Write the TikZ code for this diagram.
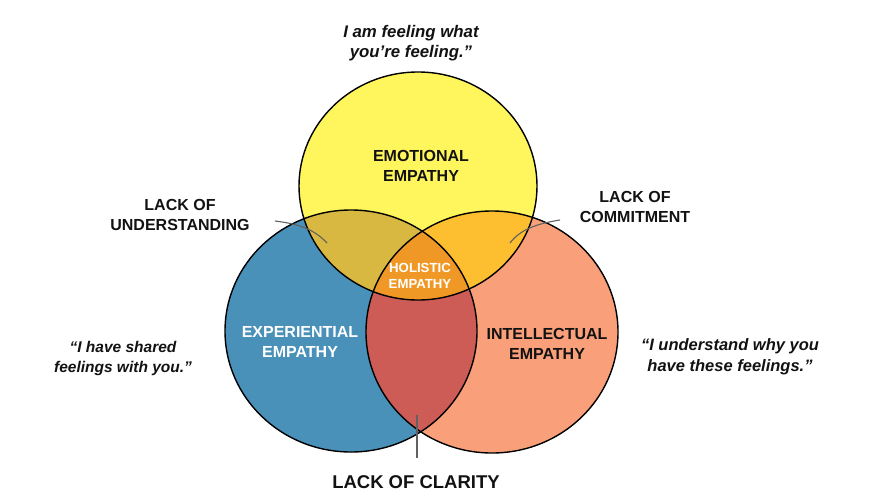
\documentclass[tikz,border=0pt]{standalone}
\usepackage{fontspec}
\setmainfont{Liberation Sans}
\begin{document}
\begin{tikzpicture}[x=1pt,y=-1pt,
  lbl/.style={font=\bfseries\fontsize{16}{20.5}\selectfont, align=center, text=black!93, inner sep=0pt},
  quotetext/.style={font=\bfseries\itshape\fontsize{16}{20}\selectfont, align=center, text=black!93, inner sep=0pt},
  holtext/.style={font=\bfseries\fontsize{13.2}{16}\selectfont, align=center, text=white, inner sep=0pt},
  leader/.style={draw=black!62, line width=1.1pt},
  outline/.style={draw=black, line width=1.4pt}]
\definecolor{cyel}{RGB}{255,245,92}
\definecolor{cblue}{RGB}{74,145,185}
\definecolor{csal}{RGB}{249,160,122}
\definecolor{cyb}{RGB}{217,184,65}
\definecolor{cys}{RGB}{253,190,48}
\definecolor{cbs}{RGB}{205,91,86}
\definecolor{cmid}{RGB}{240,152,37}
\useasboundingbox (0,0) rectangle (874,496);
\fill[white] (0,0) rectangle (874,496);
% base fills
\fill[cblue] (351,331) ellipse [x radius=126, y radius=121];
\fill[csal] (492,332) ellipse [x radius=126, y radius=121];
\fill[cyel] (418,186) ellipse [x radius=119, y radius=114];
% pairwise overlaps
\begin{scope}
  \clip (351,331) ellipse [x radius=126, y radius=121];
  \fill[cyb] (418,186) ellipse [x radius=119, y radius=114];
  \fill[cbs] (492,332) ellipse [x radius=126, y radius=121];
\end{scope}
\begin{scope}
  \clip (492,332) ellipse [x radius=126, y radius=121];
  \fill[cys] (418,186) ellipse [x radius=119, y radius=114];
\end{scope}
\begin{scope}
  \clip (351,331) ellipse [x radius=126, y radius=121];
  \clip (492,332) ellipse [x radius=126, y radius=121];
  \fill[cmid] (418,186) ellipse [x radius=119, y radius=114];
\end{scope}
% outlines
\draw[outline] (351,331) ellipse [x radius=126, y radius=121];
\draw[outline] (492,332) ellipse [x radius=126, y radius=121];
\draw[outline] (418,186) ellipse [x radius=119, y radius=114];
% circle labels
\node[lbl] (emo) at (421,166) {EMOTIONAL\\EMPATHY};
\node[lbl, text=white] (exp) at (300,342) {EXPERIENTIAL\\EMPATHY};
\node[lbl] (int) at (547,344) {INTELLECTUAL\\EMPATHY};
\node[holtext] (hol) at (420,276) {HOLISTIC\\EMPATHY};
% outside labels
\node[lbl] (lu) at (180,215) {LACK OF\\UNDERSTANDING};
\node[lbl] (lc) at (635,207) {LACK OF\\COMMITMENT};
\node[lbl, font=\bfseries\fontsize{18.5}{22}\selectfont] (lcl) at (416,482) {LACK OF CLARITY};
% quotes
\node[quotetext, font=\bfseries\itshape\fontsize{16.8}{20}\selectfont] (qe) at (411,43) {I am feeling what\\you’re feeling.”};
\node[quotetext, font=\bfseries\itshape\fontsize{15.5}{20}\selectfont] (qx) at (123,358) {“I have shared\\feelings with you.”};
\node[quotetext, font=\bfseries\itshape\fontsize{16.5}{21}\selectfont] (qi) at (730,357) {“I understand why you\\have these feelings.”};
% leader lines
\coordinate (lu1) at (275,221);
\coordinate (lu2) at (327,243);
\coordinate (lc1) at (560,220);
\coordinate (lc2) at (510,243);
\coordinate (cl1) at (417,415);
\coordinate (cl2) at (417,458);
\draw[leader] (lu1) .. controls (300,224) and (315,230) .. (lu2);
\draw[leader] (lc1) .. controls (535,224) and (520,230) .. (lc2);
\draw[leader] (cl1) -- (cl2);
\end{tikzpicture}
\end{document}
